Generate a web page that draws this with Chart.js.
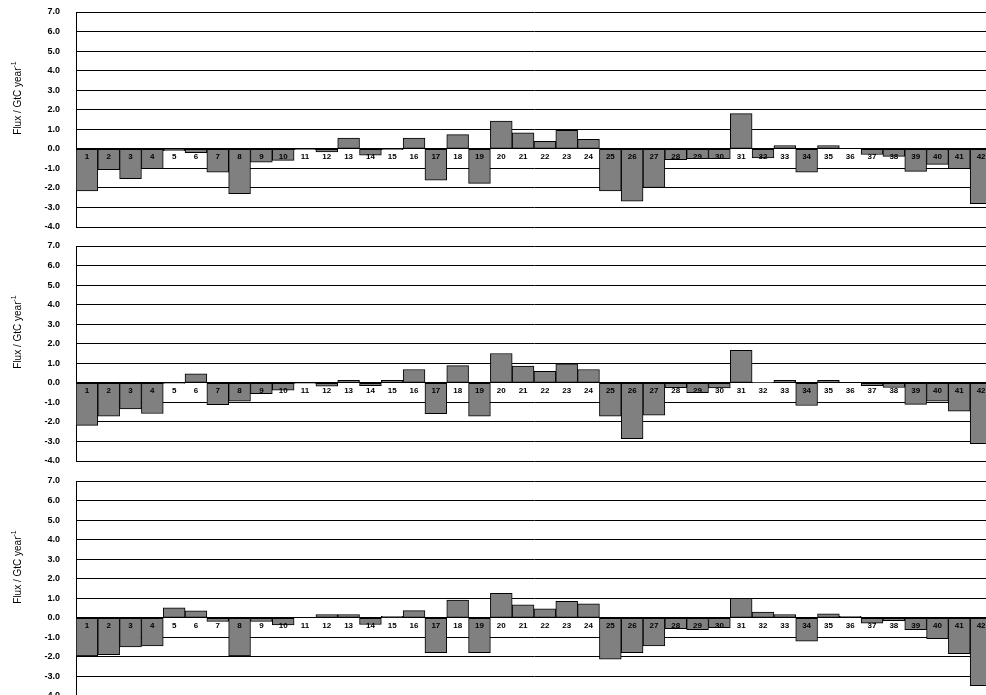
<!DOCTYPE html>
<html>
<head>
<meta charset="utf-8">
<script src="https://cdn.jsdelivr.net/npm/chart.js@4/dist/chart.umd.min.js"></script>
<style>
  html, body { margin: 0; padding: 0; background: #fff; overflow: hidden; width: 986px; height: 695px; }
  .panel { position: absolute; left: 0; }
</style>
</head>
<body>
<canvas id="flux1" class="panel" width="1000" height="231" style="top:4px"></canvas>
<canvas id="flux2" class="panel" width="1000" height="231" style="top:238px"></canvas>
<canvas id="flux3" class="panel" width="1000" height="231" style="top:473px"></canvas>
<script>
// region numbers along the bottom of each panel
const regions = ['1', '2', '3', '4', '5', '6', '7', '8', '9', '10', '11', '12', '13', '14',
  '15', '16', '17', '18', '19', '20', '21', '22', '23', '24', '25', '26', '27', '28',
  '29', '30', '31', '32', '33', '34', '35', '36', '37', '38', '39', '40', '41', '42'];

// net flux per region, GtC / year
const fluxTop = [-2.15, -1.07, -1.53, -1.02, -0.1, -0.2, -1.19, -2.3, -0.68, -0.59, -0.04, -0.16,
  0.55, -0.33, -0.04, 0.55, -1.6, 0.73, -1.77, 1.42, 0.82, 0.38, 0.94, 0.48, -2.15, -2.68,
  -1.98, -0.56, -0.51, -0.51, 1.8, -0.46, 0.17, -1.2, 0.17, 0.0, -0.29, -0.39, -1.15, -0.8,
  -1.02, -2.81];
const fluxMiddle = [-2.18, -1.7, -1.33, -1.57, -0.02, 0.46, -1.12, -0.94, -0.55, -0.38, -0.03, -0.17,
  0.13, -0.14, 0.13, 0.68, -1.58, 0.88, -1.7, 1.5, 0.85, 0.59, 0.97, 0.68, -1.7, -2.86,
  -1.65, -0.25, -0.51, -0.26, 1.66, 0.02, 0.13, -1.16, 0.13, 0.0, -0.14, -0.24, -1.1, -0.94,
  -1.45, -3.11];
const fluxBottom = [-1.95, -1.88, -1.49, -1.44, 0.51, 0.36, -0.19, -1.95, -0.19, -0.36, 0.0, 0.17,
  0.17, -0.34, 0.07, 0.37, -1.78, 0.91, -1.78, 1.25, 0.66, 0.46, 0.84, 0.71, -2.12, -1.78,
  -1.44, -0.56, -0.61, -0.51, 1.0, 0.29, 0.17, -1.19, 0.2, 0.08, -0.27, -0.15, -0.61, -1.07,
  -1.83, -3.47];

const yMin = -4;
const yMax = 7;
const FONT = '"Liberation Sans", Arial, sans-serif';

// numbers written just under the zero line, one per bar
const regionLabels = {
  id: 'regionLabels',
  afterDatasetsDraw(chart) {
    const { ctx, scales: { x, y } } = chart;
    const base = y.getPixelForValue(0);
    ctx.save();
    ctx.font = 'bold 8px ' + FONT;
    ctx.fillStyle = '#000';
    ctx.textAlign = 'center';
    ctx.textBaseline = 'middle';
    chart.data.labels.forEach((lab, i) => {
      ctx.fillText(lab, x.getPixelForValue(i), base + 8);
    });
    ctx.restore();
  }
};

// rotated axis title with a superscript exponent
const fluxTitle = {
  id: 'fluxTitle',
  afterDraw(chart) {
    const { ctx, chartArea } = chart;
    const main = 'Flux / GtC year';
    const sup = '-1';
    ctx.save();
    ctx.translate(18, chartArea.top + 86);
    ctx.rotate(-Math.PI / 2);
    ctx.fillStyle = '#000';
    ctx.textAlign = 'left';
    ctx.textBaseline = 'middle';
    ctx.font = '10px ' + FONT;
    const w = ctx.measureText(main).width;
    ctx.font = '7px ' + FONT;
    const sw = ctx.measureText(sup).width;
    const start = -(w + sw) / 2;
    ctx.font = '10px ' + FONT;
    ctx.fillText(main, start, 0);
    ctx.font = '7px ' + FONT;
    ctx.fillText(sup, start + w, -4);
    ctx.restore();
  }
};

function makePanel(id, values) {
  const ctx = document.getElementById(id).getContext('2d');
  return new Chart(ctx, {
    type: 'bar',
    data: {
      labels: regions,
      datasets: [{
        data: values,
        backgroundColor: '#808080',
        borderColor: '#000',
        borderWidth: 1,
        borderSkipped: false,
        barPercentage: 1,
        categoryPercentage: 1
      }]
    },
    options: {
      responsive: false,
      animation: false,
      devicePixelRatio: 1,
      layout: { padding: { top: 8, bottom: 8, left: 0, right: 8 } },
      plugins: { legend: { display: false }, tooltip: { enabled: false } },
      scales: {
        x: { display: false },
        y: {
          min: yMin,
          max: yMax,
          afterFit(scale) { scale.width = 76; },
          border: { display: true, color: '#000', width: 1 },
          // invisible tick marks keep the labels clear of the axis
          grid: { color: '#000', lineWidth: 1, drawTicks: true, tickLength: 16, tickColor: 'rgba(0,0,0,0)' },
          ticks: {
            stepSize: 1,
            padding: 0,
            color: '#000',
            font: { family: FONT, size: 9, weight: 'bold' },
            callback: v => v.toFixed(1)
          }
        }
      }
    },
    plugins: [regionLabels, fluxTitle]
  });
}

makePanel('flux1', fluxTop);
makePanel('flux2', fluxMiddle);
makePanel('flux3', fluxBottom);
</script>
</body>
</html>
